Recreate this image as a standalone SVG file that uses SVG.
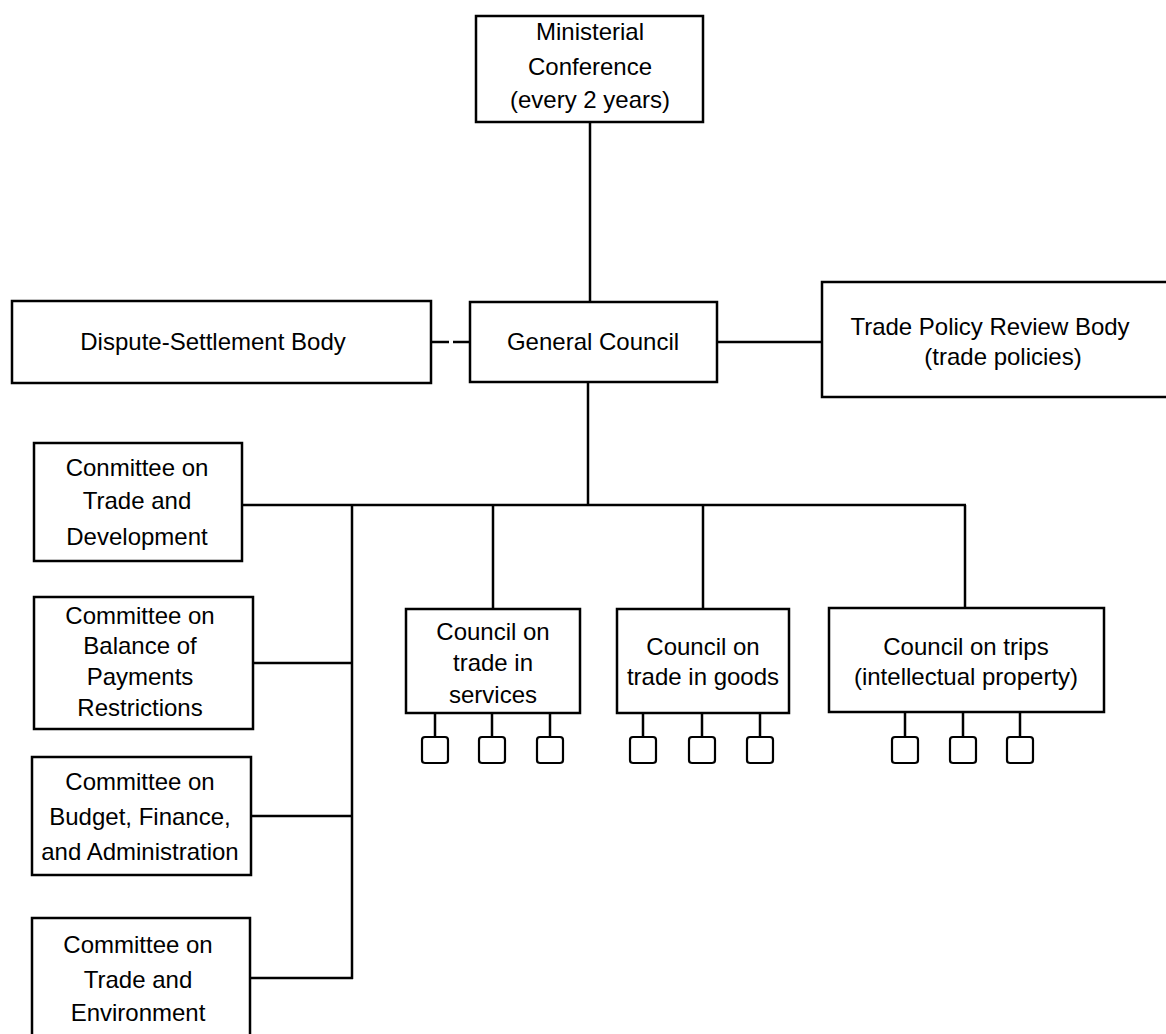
<svg xmlns="http://www.w3.org/2000/svg" width="1166" height="1034" viewBox="0 0 1166 1034">
<style>
.box{fill:#fff;stroke:#000;stroke-width:2.5}
.sm{fill:#fff;stroke:#000;stroke-width:2.2}
.ln{fill:none;stroke:#000;stroke-width:2.5}
text{font-family:"Liberation Sans",Arial,sans-serif;font-size:24px;fill:#000;text-anchor:middle}
</style>
<rect width="1166" height="1034" fill="#fff"/>
<g id="connectors">
<line class="ln" x1="590" y1="122" x2="590" y2="302"/>
<line class="ln" x1="431" y1="342" x2="470" y2="342" stroke-dasharray="18 4"/>
<line class="ln" x1="717" y1="342" x2="822" y2="342"/>
<line class="ln" x1="588" y1="382" x2="588" y2="505"/>
<line class="ln" x1="242" y1="505" x2="966" y2="505"/>
<line class="ln" x1="493" y1="505" x2="493" y2="609"/>
<line class="ln" x1="703" y1="505" x2="703" y2="609"/>
<line class="ln" x1="965" y1="505" x2="965" y2="608"/>
<line class="ln" x1="352" y1="505" x2="352" y2="979"/>
<line class="ln" x1="253" y1="663" x2="352" y2="663"/>
<line class="ln" x1="251" y1="816" x2="352" y2="816"/>
<line class="ln" x1="250" y1="978" x2="353" y2="978"/>
<path class="ln" d="M435 713V737M492 713V737M550 713V737M643 713V737M702 713V737M760 713V737M905 712V737M963 712V737M1020 712V737"/>
</g>
<g id="ministerial">
<rect class="box" x="476" y="16" width="227" height="106"/>
<text x="590" y="40">Ministerial</text>
<text x="590" y="75">Conference</text>
<text x="590" y="108">(every 2 years)</text>
</g>
<g id="dispute">
<rect class="box" x="12" y="301" width="419" height="82"/>
<text x="213" y="350">Dispute-Settlement Body</text>
</g>
<g id="general">
<rect class="box" x="470" y="302" width="247" height="80"/>
<text x="593" y="350">General Council</text>
</g>
<g id="tprb">
<rect class="box" x="822" y="282" width="360" height="115"/>
<text x="990" y="335">Trade Policy Review Body</text>
<text x="1003" y="365">(trade policies)</text>
</g>
<g id="ctd">
<rect class="box" x="34" y="443" width="208" height="118"/>
<text x="137" y="476">Conmittee on</text>
<text x="137" y="509">Trade and</text>
<text x="137" y="545">Development</text>
</g>
<g id="cbop">
<rect class="box" x="34" y="597" width="219" height="132"/>
<text x="140" y="624">Committee on</text>
<text x="140" y="654">Balance of</text>
<text x="140" y="685">Payments</text>
<text x="140" y="716">Restrictions</text>
</g>
<g id="cbfa">
<rect class="box" x="32" y="757" width="219" height="118"/>
<text x="140" y="790">Committee on</text>
<text x="140" y="825">Budget, Finance,</text>
<text x="140" y="860">and Administration</text>
</g>
<g id="cte">
<rect class="box" x="32" y="918" width="218" height="130"/>
<text x="138" y="953">Committee on</text>
<text x="138" y="988">Trade and</text>
<text x="138" y="1021">Environment</text>
</g>
<g id="services">
<rect class="box" x="406" y="609" width="174" height="104"/>
<text x="493" y="640">Council on</text>
<text x="493" y="671">trade in</text>
<text x="493" y="703">services</text>
</g>
<g id="goods">
<rect class="box" x="617" y="609" width="172" height="104"/>
<text x="703" y="655">Council on</text>
<text x="703" y="685">trade in goods</text>
</g>
<g id="trips">
<rect class="box" x="829" y="608" width="275" height="104"/>
<text x="966" y="655">Council on trips</text>
<text x="966" y="685">(intellectual property)</text>
</g>
<g id="subbodies">
<rect class="sm" x="422" y="737" width="26" height="26" rx="3"/>
<rect class="sm" x="479" y="737" width="26" height="26" rx="3"/>
<rect class="sm" x="537" y="737" width="26" height="26" rx="3"/>
<rect class="sm" x="630" y="737" width="26" height="26" rx="3"/>
<rect class="sm" x="689" y="737" width="26" height="26" rx="3"/>
<rect class="sm" x="747" y="737" width="26" height="26" rx="3"/>
<rect class="sm" x="892" y="737" width="26" height="26" rx="3"/>
<rect class="sm" x="950" y="737" width="26" height="26" rx="3"/>
<rect class="sm" x="1007" y="737" width="26" height="26" rx="3"/>
</g>
</svg>
